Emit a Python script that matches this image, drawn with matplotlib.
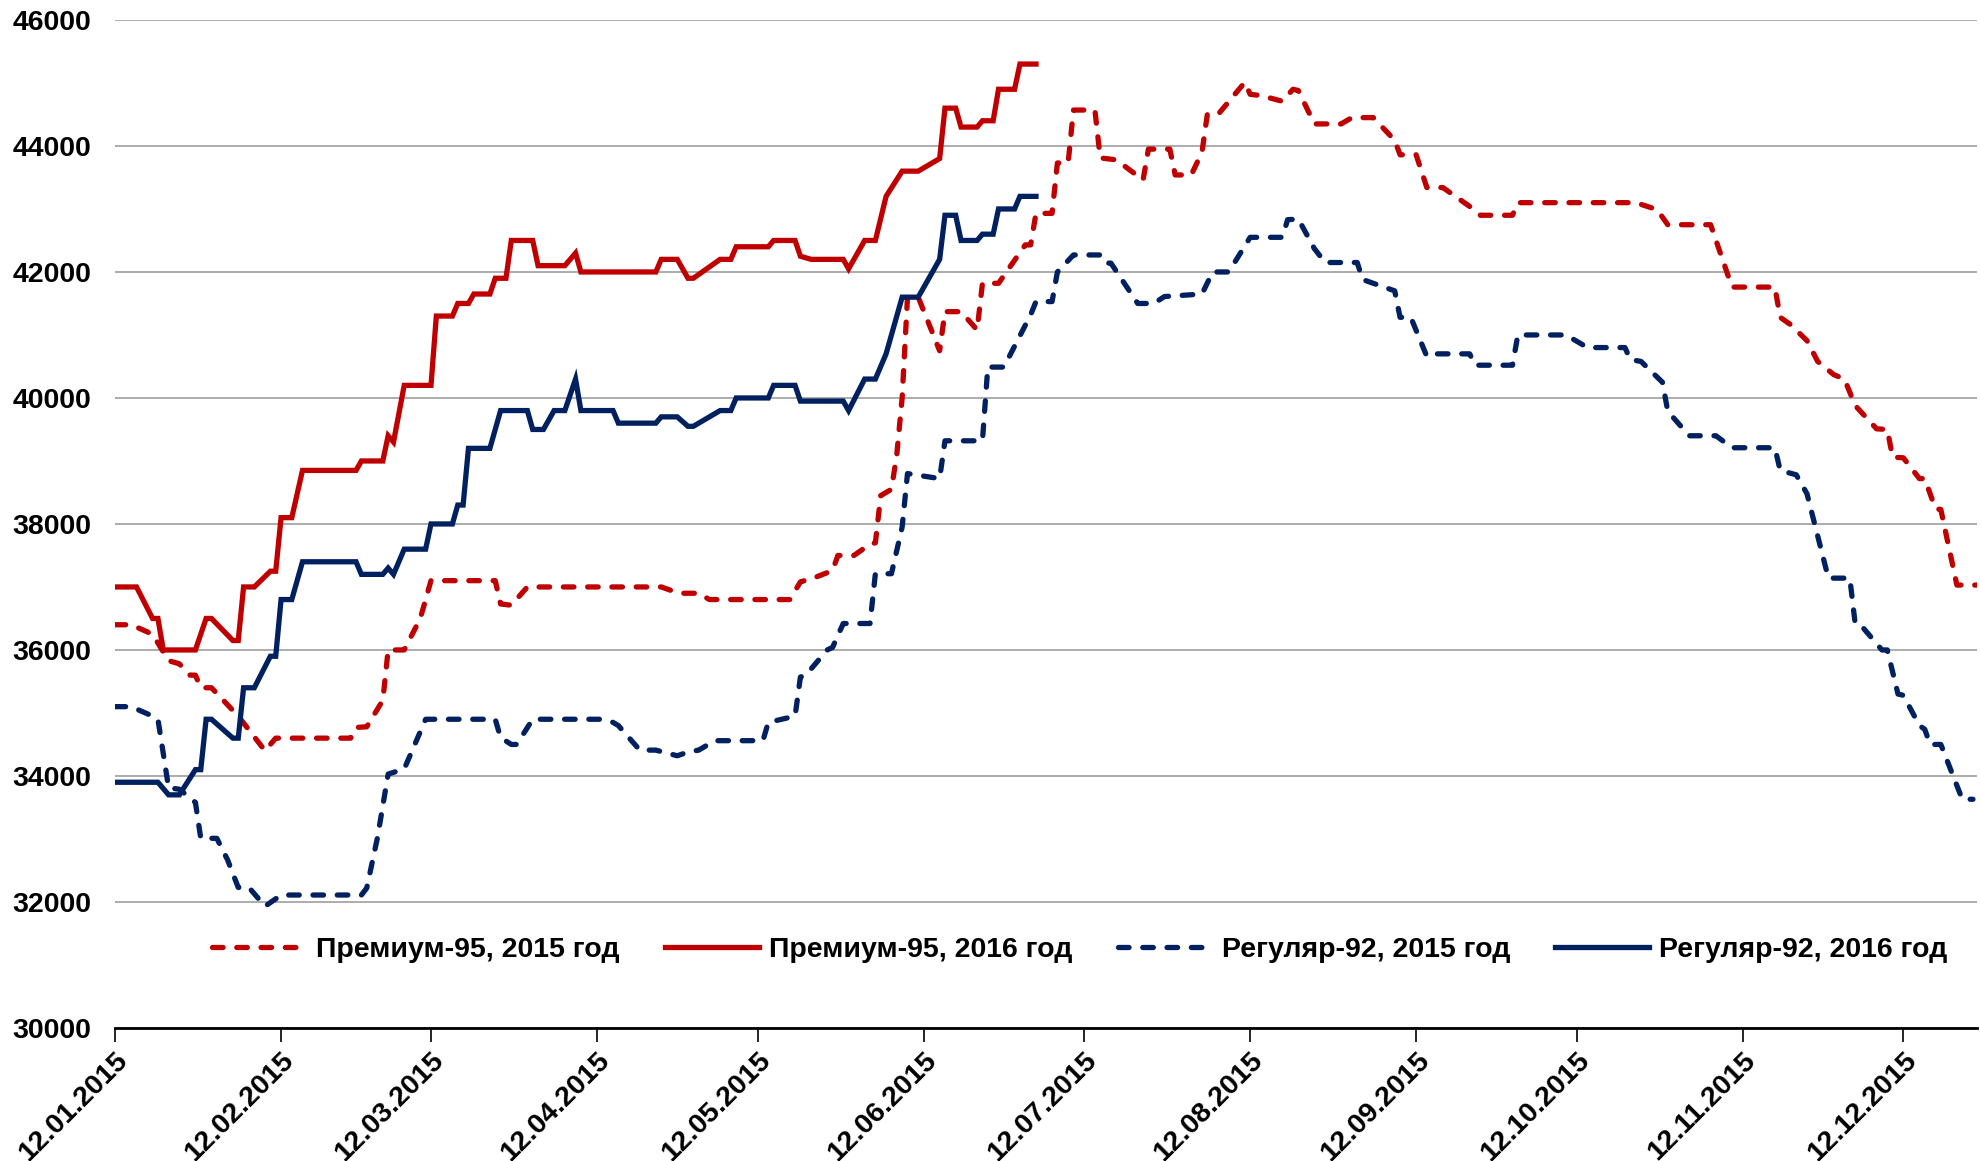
import pandas as pd
import matplotlib
matplotlib.use("Agg")
from matplotlib import pyplot as plt
import matplotlib.dates as mdates

plt.rcParams["font.family"] = ["Liberation Sans", "DejaVu Sans"]
plt.rcParams["font.weight"] = "bold"

START = pd.Timestamp("2015-01-12")

# Премиум-95, 2015 год (days since 12.01, price)
p95_2015_days = [0, 3, 7, 10, 12, 14, 15, 16, 18, 23, 28, 30, 44, 45, 47, 50, 51, 54, 57, 59,
                 71, 72, 74, 77, 102, 104, 106, 109, 111, 126, 128, 131, 134, 135, 138, 141, 142,
                 143, 145, 146, 147, 148, 150, 154, 155, 158, 161, 162, 165, 170, 171, 172, 175,
                 176, 178, 179, 183, 184, 187, 192, 193, 197, 198, 201, 203, 204, 206, 211, 212,
                 214, 218, 220, 221, 224, 229, 231, 235, 239, 240, 243, 245, 248, 254, 255, 261,
                 262, 284, 288, 290, 298, 302, 310, 311, 313, 316, 318, 321, 323, 325, 329, 331,
                 332, 334, 337, 338, 340, 341, 344, 349]
p95_2015_vals = [36400, 36400, 36250, 35830, 35780, 35600, 35600, 35400, 35400, 34950, 34400,
                 34600, 34600, 34770, 34780, 35200, 36000, 36000, 36500, 37100,
                 37100, 36730, 36710, 37000, 37000, 36940, 36900, 36900, 36800, 36800, 37080,
                 37160, 37260, 37500, 37500, 37680, 37700,
                 38450, 38550, 39100, 40000, 41600, 41600, 40750, 41370, 41370, 41080, 41820,
                 41820, 42430, 42430, 42930, 42930,
                 43730, 43730, 44570, 44570, 43810, 43780, 43460, 43950, 43950, 43540, 43540,
                 43900, 44500, 44500, 45010, 44820,
                 44800, 44710, 44900, 44880, 44350, 44350, 44450, 44450, 44090, 43860, 43860,
                 43340, 43340, 42980, 42900, 42900,
                 43100, 43100, 42990, 42750, 42750, 41760, 41760, 41280, 41160, 40910, 40580,
                 40370, 40300, 39880, 39510, 39500,
                 39060, 39050, 38720, 38720, 38240, 38230, 37030, 37030]

# Премиум-95, 2016 год
p95_2016_days = [0, 4, 7, 8, 9, 15, 17, 18, 22, 23, 24, 26, 29, 30, 31, 33, 35, 45, 46, 50, 51,
                 52, 54, 59, 60, 63, 64, 66, 67, 70, 71, 73, 74, 78, 79, 84, 86, 87, 101, 102,
                 105, 107, 108, 113, 115, 116, 122, 123, 127, 128, 130, 136, 137, 140, 142, 144,
                 147, 150, 154, 155, 157, 158, 161, 162, 164, 165, 168, 169, 172]
p95_2016_vals = [37000, 37000, 36500, 36500, 36000, 36000, 36500, 36500, 36150, 36150, 37000,
                 37000, 37250, 37250, 38100, 38100, 38850, 38850, 39000, 39000, 39400,
                 39300, 40200, 40200, 41300, 41300, 41500, 41500, 41650, 41650, 41900, 41900,
                 42500, 42500, 42100, 42100, 42300, 42000, 42000, 42200,
                 42200, 41900, 41900, 42200, 42200, 42400, 42400, 42500, 42500, 42250, 42200,
                 42200, 42050, 42500, 42500, 43200,
                 43600, 43600, 43800, 44600, 44600, 44300, 44300, 44400, 44400, 44900, 44900,
                 45300, 45300]

# Регуляр-92, 2015 год
r92_2015_days = [0, 3, 7, 8, 10, 12, 15, 16, 19, 21, 23, 25, 28, 31, 46, 47, 49, 51, 54, 58,
                 71, 72, 74, 75, 78, 91, 93, 94, 98, 101, 105, 107, 109, 112, 121, 122, 127,
                 128, 129, 133, 134, 136, 141, 142, 145, 147, 148, 154, 155, 162, 163, 166, 171,
                 172, 175, 176, 179, 184, 185, 186, 191, 194, 196, 203, 205, 208, 212, 218, 219,
                 221, 224, 226, 232, 233, 239, 240, 242, 245, 247, 253, 254, 261, 262, 271, 275,
                 282, 283, 285, 289, 290, 294, 299, 302, 310, 311, 314, 316, 320, 324, 325, 326,
                 330, 331, 333, 334, 337, 338, 339, 341, 345, 347]
r92_2015_vals = [35100, 35100, 34950, 34900, 33810, 33790, 33580, 33010, 33010, 32670, 32230,
                 32230, 31930, 32110, 32110, 32220, 33020, 34030, 34110, 34900,
                 34900, 34610, 34500, 34500, 34900, 34900, 34850, 34800, 34410, 34410, 34320,
                 34380, 34410, 34560, 34560, 34850, 34950,
                 35570, 35600, 36000, 36040, 36420, 36420, 37210, 37210, 37950, 38800, 38720,
                 39320, 39320, 40490, 40490, 41320,
                 41530, 41530, 42000, 42270, 42270, 42140, 42140, 41500, 41500, 41610, 41650,
                 42000, 42000, 42550, 42550, 42830,
                 42840, 42370, 42150, 42150, 41880, 41700, 41280, 41280, 40660, 40700, 40700,
                 40520, 40520, 41000, 41000, 40800,
                 40800, 40610, 40580, 40250, 39790, 39400, 39400, 39210, 39210, 38850, 38780,
                 38480, 37140, 37140, 36420, 36400,
                 36000, 36000, 35300, 35280, 34800, 34740, 34500, 34500, 33630, 33630]

# Регуляр-92, 2016 год
r92_2016_days = [0, 8, 10, 12, 15, 16, 17, 18, 22, 23, 24, 26, 29, 30, 31, 33, 35, 45, 46, 50,
                 51, 52, 54, 58, 59, 63, 64, 65, 66, 70, 72, 77, 78, 80, 82, 84, 86, 87, 93, 94,
                 101, 102, 105, 107, 108, 113, 115, 116, 122, 123, 127, 128, 136, 137, 140, 142,
                 144, 147, 150, 154, 155, 157, 158, 161, 162, 164, 165, 168, 169, 172]
r92_2016_vals = [33900, 33900, 33700, 33700, 34100, 34100, 34900, 34900, 34600, 34600, 35400,
                 35400, 35900, 35900, 36800, 36800, 37400, 37400, 37200, 37200,
                 37300, 37200, 37600, 37600, 38000, 38000, 38300, 38300, 39200, 39200, 39800,
                 39800, 39500, 39500, 39800, 39800, 40300, 39800, 39800, 39600,
                 39600, 39700, 39700, 39550, 39550, 39800, 39800, 40000, 40000, 40200, 40200,
                 39950, 39950, 39800, 40300, 40300,
                 40700, 41600, 41600, 42200, 42900, 42900, 42500, 42500, 42600, 42600, 43000,
                 43000, 43200, 43200]

labels = ["Премиум-95, 2015 год", "Премиум-95, 2016 год",
          "Регуляр-92, 2015 год", "Регуляр-92, 2016 год"]

RED = "#C00000"
NAVY = "#002060"


def to_dates(days):
    return START + pd.to_timedelta(days, unit="D")


fig = plt.figure(figsize=(19.81, 11.61), dpi=100)
ax = fig.add_axes([0.0581, 0.1146, 0.9400, 0.8682])

dash = dict(linestyle=(0, (2.0, 2.6)), dash_capstyle="round")
ax.plot(to_dates(p95_2015_days), p95_2015_vals, color=RED, lw=3.8, label=labels[0], **dash)
ax.plot(to_dates(p95_2016_days), p95_2016_vals, color=RED, lw=3.8, label=labels[1],
        solid_joinstyle="miter")
ax.plot(to_dates(r92_2015_days), r92_2015_vals, color=NAVY, lw=3.8, label=labels[2], **dash)
ax.plot(to_dates(r92_2016_days), r92_2016_vals, color=NAVY, lw=3.8, label=labels[3],
        solid_joinstyle="miter")

ax.set_ylim(30000, 46000)
ax.set_yticks(range(30000, 46001, 2000))
ax.set_xlim(START, START + pd.Timedelta(days=347.8))

tick_dates = pd.date_range("2015-01-12", periods=12, freq=pd.DateOffset(months=1))
ax.set_xticks(tick_dates)
ax.xaxis.set_major_formatter(mdates.DateFormatter("%d.%m.%Y"))

ax.grid(axis="y", color="#A6A6A6", lw=1.3)
ax.set_axisbelow(True)
for side in ["top", "right", "left"]:
    ax.spines[side].set_visible(False)
ax.spines["bottom"].set_color("black")
ax.spines["bottom"].set_linewidth(2)

ax.tick_params(axis="y", length=0, pad=17, labelsize=20.5)
ax.tick_params(axis="x", length=10, width=1.2, direction="out", pad=4, labelsize=20.5)
for lab in ax.get_xticklabels():
    lab.set_rotation(45)
    lab.set_ha("right")
    lab.set_rotation_mode("anchor")
for lab in ax.get_yticklabels() + ax.get_xticklabels():
    lab.set_fontweight("bold")

ax.legend(loc="center", bbox_to_anchor=(0.518, 0.077), ncol=4, frameon=False,
          prop={"size": 20.5, "weight": "bold"}, handlelength=3.3, handletextpad=0.35,
          columnspacing=1.6)

fig.savefig("out.png", dpi=100)
